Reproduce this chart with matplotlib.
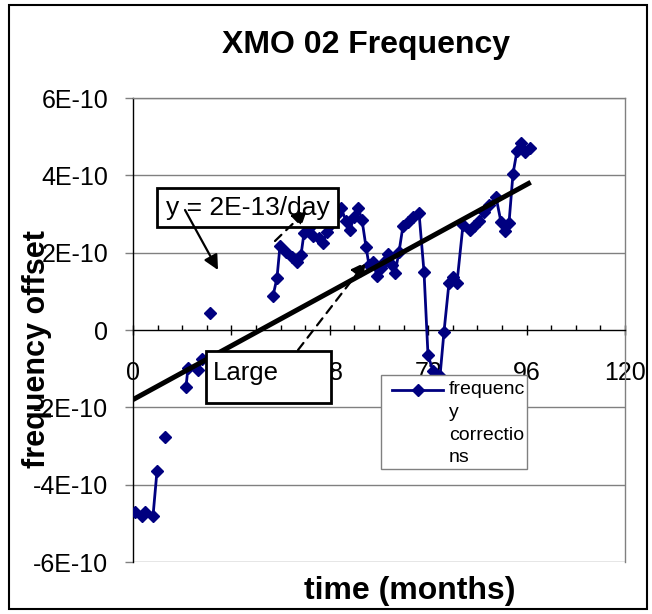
import numpy as np
import matplotlib
matplotlib.use("Agg")
import matplotlib.pyplot as plt
from matplotlib.patches import Rectangle, FancyArrowPatch
from matplotlib.lines import Line2D
from matplotlib.ticker import FixedLocator, FixedFormatter, MultipleLocator

plt.rcParams['font.family'] = ['Liberation Sans', 'DejaVu Sans']

# ---------------- data ----------------
# months; NaN separates segments (blank cells break the line)
months = [0.49, 2.20, 2.93, 4.88, 5.85, np.nan,
          7.80, np.nan,
          12.93, 13.41, 15.85, 16.83, np.nan,
          18.78, np.nan,
          34.15, 35.12, 35.85, 37.32, 38.78, 40.00, 40.98, 41.71, 42.93, 43.90,
          45.37, 46.34, 47.32, 48.29, 49.51, 50.73, 51.95, 52.93, 53.90, 54.88,
          55.85, 56.83, 57.56, 58.54, 59.51, 60.49, 61.22, 62.20, 63.17, 63.90,
          64.88, 65.85, 67.07, 68.29, 69.76, 70.98, 71.95, 73.17, 74.88, 75.85,
          77.07, 78.05, 79.02, 80.49, 82.20, 83.17, 84.39, 85.61, 86.83, 88.54,
          89.76, 90.73, 91.71, 92.68, 93.66, 94.63, 95.61, 96.83]
# frequency offset in units of 1E-10
offset_e10 = [-4.71, -4.81, -4.71, -4.81, -3.65, np.nan,
              -2.77, np.nan,
              -1.47, -0.98, -1.03, -0.75, np.nan,
              0.44, np.nan,
              0.88, 1.35, 2.17, 2.02, 1.89, 1.76, 1.94, 2.51, 2.64, 2.43,
              2.38, 2.25, 2.54, 2.74, 2.98, 3.16, 2.82, 2.59, 2.92, 3.16,
              2.85, 2.15, 1.68, 1.76, 1.40, 1.60, 1.76, 1.97, 1.68, 1.47,
              2.02, 2.69, 2.79, 2.92, 3.03, 1.50, -0.65, -1.06, -1.19, -0.05,
              1.22, 1.37, 1.22, 2.72, 2.59, 2.69, 2.82, 3.05, 3.23, 3.44,
              2.79, 2.56, 2.77, 4.04, 4.63, 4.84, 4.61, 4.71]

trend_months = [0, 97]
trend_e10 = [-1.80, 3.82]

x_ticks = [0, 24, 48, 72, 96, 120]
x_tick_labels = ["0", "24", "48", "72", "96", "120"]
y_ticks_e10 = [-6, -4, -2, 0, 2, 4, 6]
y_tick_labels = ["-6E-10", "-4E-10", "-2E-10", "0", "2E-10", "4E-10", "6E-10"]

title = "XMO 02 Frequency"
x_label = "time (months)"
y_label = "frequency offset"
series_label = ["frequenc", "y", "correctio", "ns"]
note1 = "y = 2E-13/day"
note2 = "Large"

# ---------------- figure ----------------
W, H = 652, 614
fig = plt.figure(figsize=(W / 100, H / 100), dpi=100)
fig.patch.set_facecolor("white")

def fx(px):
    return px / W

def fy(py):
    return 1 - py / H

left, right, top, bottom = 133, 625, 98, 562
ax = fig.add_axes([fx(left), fy(bottom), (right - left) / W, (bottom - top) / H])

xv = np.array(months, dtype=float)
yv = np.array(offset_e10, dtype=float) * 1e-10
navy = "#000080"
grid_gray = "#808080"

ax.set_xlim(0, 120)
ax.set_ylim(-6e-10, 6e-10)

for t in y_ticks_e10:
    if t != 0:
        ax.axhline(t * 1e-10, color=grid_gray, lw=1.0, zorder=0.5)

ax.plot(xv, yv, color=navy, lw=2, marker="D", ms=6, mec=navy, mfc=navy, zorder=3)
ax.plot(trend_months, np.array(trend_e10) * 1e-10, color="black", lw=3.6,
        solid_capstyle="butt", zorder=4)

ax.spines["bottom"].set_position(("data", 0))
ax.spines["bottom"].set_color("black")
ax.spines["left"].set_color("black")
ax.spines["right"].set_color(grid_gray)
ax.spines["top"].set_color(grid_gray)
for s in ax.spines.values():
    s.set_linewidth(1.0)

ax.xaxis.set_major_locator(FixedLocator(x_ticks))
ax.xaxis.set_major_formatter(FixedFormatter(x_tick_labels))
ax.xaxis.set_minor_locator(MultipleLocator(6))
ax.yaxis.set_major_locator(FixedLocator([t * 1e-10 for t in y_ticks_e10]))
ax.yaxis.set_major_formatter(FixedFormatter(y_tick_labels))
ax.tick_params(axis="x", which="major", direction="inout", length=7.2, width=1,
               labelsize=18, pad=19)
ax.tick_params(axis="x", which="minor", direction="in", length=3.6, width=1)
ax.tick_params(axis="y", which="major", direction="out", length=5.8, width=1,
               labelsize=18, pad=12, colors="black")
ax.tick_params(axis="y", which="major", color=grid_gray)

# ---------------- figure texts ----------------
fig.text(fx(366), fy(45), title, ha="center", va="center", fontsize=23, fontweight="bold")
fig.text(fx(410), fy(591), x_label, ha="center", va="center", fontsize=23, fontweight="bold")
fig.text(fx(37), fy(349), y_label, ha="center", va="center", fontsize=22,
         fontweight="bold", rotation=90)

# outer chart border
fig.add_artist(Rectangle((fx(9), fy(609)), fx(647) - fx(9), fy(5) - fy(609),
                         transform=fig.transFigure, fill=False, ec="black", lw=1.5, zorder=10))

# annotation boxes
def box(x0, y0, x1, y1, z=5):
    fig.add_artist(Rectangle((fx(x0), fy(y1)), fx(x1) - fx(x0), fy(y0) - fy(y1),
                             transform=fig.transFigure, fc="white", ec="black", lw=2, zorder=z))

box(157, 188, 338, 227)
fig.text(fx(166), fy(208), note1, ha="left", va="center", fontsize=19, zorder=6)
box(206, 351, 331, 403)
fig.text(fx(213), fy(373), note2, ha="left", va="center", fontsize=18.5, zorder=6)

def arrow(p0, p1, ls="-"):
    a = FancyArrowPatch((fx(p0[0]), fy(p0[1])), (fx(p1[0]), fy(p1[1])),
                        transform=fig.transFigure, arrowstyle="-|>", mutation_scale=22,
                        color="black", lw=1.6, linestyle=ls, zorder=7,
                        shrinkA=0, shrinkB=0)
    fig.add_artist(a)

arrow((185, 210), (218, 270))
arrow((275, 241), (307, 210), ls=(0, (4, 3)))
arrow((298, 350), (366, 262), ls=(0, (4, 3)))

# legend (drawn as in the original chart)
fig.add_artist(Rectangle((fx(381), fy(469)), fx(527) - fx(381), fy(375) - fy(469),
                         transform=fig.transFigure, fc="white", ec=grid_gray, lw=1, zorder=8))
fig.add_artist(Line2D([fx(392), fx(443)], [fy(390), fy(390)], transform=fig.transFigure,
                      color=navy, lw=2, zorder=9))
fig.add_artist(Line2D([fx(417.5)], [fy(390)], transform=fig.transFigure, marker="D",
                      ms=6, color=navy, lw=0, zorder=9))
for i, s in enumerate(series_label):
    fig.text(fx(449), fy(390 + 22.5 * i), s, ha="left", va="center", fontsize=14, zorder=9)

fig.savefig("out.png", dpi=100)
